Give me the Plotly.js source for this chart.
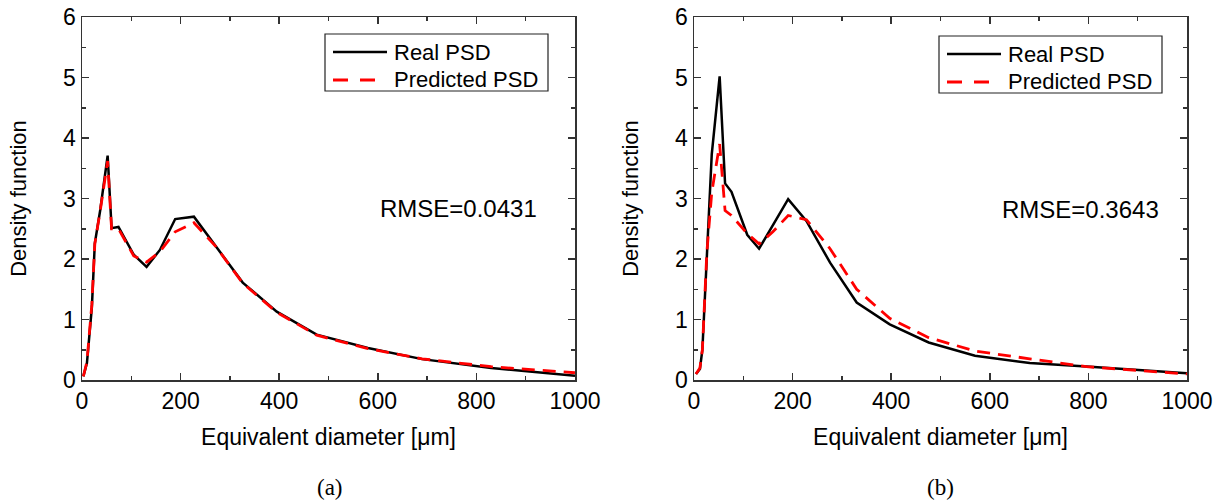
<!DOCTYPE html>
<html>
<head>
<meta charset="utf-8">
<script src="https://cdn.plot.ly/plotly-3.0.1.min.js"></script>
<style>html,body{margin:0;padding:0;background:#fff;}#chart{width:1221px;height:502px;}</style>
</head>
<body>
<div id="chart"></div>
<script>
// ---- data ----
const diamA = [2.7, 10, 20, 26, 37, 52, 60, 74, 105, 131, 158, 189, 227, 272, 326, 395, 476, 580, 690, 830, 1000];
const realA = [0.06, 0.28, 1.2, 2.26, 2.81, 3.71, 2.51, 2.53, 2.07, 1.87, 2.15, 2.66, 2.70, 2.20, 1.61, 1.13, 0.75, 0.53, 0.345, 0.20, 0.07];
const predA = [0.06, 0.30, 1.25, 2.25, 2.80, 3.62, 2.50, 2.50, 2.05, 1.95, 2.12, 2.45, 2.60, 2.20, 1.60, 1.12, 0.74, 0.52, 0.35, 0.22, 0.12];

const diamB = [4, 12, 17, 26, 36, 52, 63, 76, 108, 132, 160, 191, 228, 276, 330, 397, 476, 570, 681, 796, 1000];
const realB = [0.10, 0.18, 0.50, 2.00, 3.73, 5.02, 3.25, 3.11, 2.40, 2.17, 2.57, 2.99, 2.63, 1.94, 1.28, 0.92, 0.62, 0.40, 0.28, 0.225, 0.11];
const predB = [0.10, 0.20, 0.50, 2.10, 3.10, 3.90, 2.80, 2.72, 2.42, 2.25, 2.45, 2.72, 2.65, 2.17, 1.50, 1.02, 0.70, 0.48, 0.35, 0.22, 0.10];

const seriesNames = ["Real PSD", "Predicted PSD"];
const rmseLabels = ["RMSE=0.0431", "RMSE=0.3643"];
const panelLabels = ["(a)", "(b)"];
const xTitle = "Equivalent diameter [μm]";
const yTitle = "Density function";

// ---- styling ----
const FONT = "Liberation Sans, Arial, Helvetica, sans-serif";
const W = 1221, H = 502;
const px = v => v / W;
const py = v => 1 - v / H;

const realLine = {color: "#000000", width: 2.5};
const predLine = {color: "#ff0000", width: 2.8, dash: "13px,8px"};

const traces = [
  {x: diamA, y: realA, name: seriesNames[0], mode: "lines", line: realLine, xaxis: "x", yaxis: "y", showlegend: false},
  {x: diamA, y: predA, name: seriesNames[1], mode: "lines", line: predLine, xaxis: "x", yaxis: "y", showlegend: false},
  {x: diamB, y: realB, name: seriesNames[0], mode: "lines", line: realLine, xaxis: "x2", yaxis: "y2", showlegend: false},
  {x: diamB, y: predB, name: seriesNames[1], mode: "lines", line: predLine, xaxis: "x2", yaxis: "y2", showlegend: false}
];

function xAx(domain) {
  return {
    domain: domain, range: [0, 1000], dtick: 200, tick0: 0,
    showline: true, linecolor: "#333", linewidth: 1.5, mirror: "ticks",
    ticks: "inside", ticklen: 7, tickwidth: 1.5, tickcolor: "#333",
    minor: {dtick: 100, ticks: "inside", ticklen: 4, tickwidth: 1.5, tickcolor: "#333"},
    showgrid: false, zeroline: false, fixedrange: true,
    tickfont: {family: FONT, size: 23, color: "#000"},
    title: {text: xTitle, font: {family: FONT, size: 23, color: "#000"}, standoff: 16}
  };
}
function yAx(anchor) {
  return {
    domain: [py(380), py(17)], range: [0, 6], dtick: 1, tick0: 0, anchor: anchor,
    showline: true, linecolor: "#333", linewidth: 1.5, mirror: "ticks",
    ticks: "inside", ticklen: 7, tickwidth: 1.5, tickcolor: "#333",
    minor: {dtick: 0.5, ticks: "inside", ticklen: 4, tickwidth: 1.5, tickcolor: "#333"},
    showgrid: false, zeroline: false, fixedrange: true,
    tickfont: {family: FONT, size: 23, color: "#000"},
    title: {text: yTitle, font: {family: FONT, size: 22, color: "#000"}, standoff: 30}
  };
}

// manual legend boxes (pixel positions of the reference legend frames)
function legendParts(left, top) {
  const shapes = [
    {type: "rect", xref: "paper", yref: "paper", x0: px(left), x1: px(left + 223), y0: py(top), y1: py(top + 57),
     line: {color: "#222", width: 1.2}, fillcolor: "#fff", layer: "above"},
    {type: "line", xref: "paper", yref: "paper", x0: px(left + 8), x1: px(left + 62), y0: py(top + 18), y1: py(top + 18),
     line: {color: realLine.color, width: realLine.width}, layer: "above"},
    {type: "line", xref: "paper", yref: "paper", x0: px(left + 8), x1: px(left + 50), y0: py(top + 46), y1: py(top + 46),
     line: {color: predLine.color, width: predLine.width, dash: "15px,12px"}, layer: "above"}
  ];
  const annos = [
    {text: seriesNames[0], x: px(left + 67), y: py(top + 18), xref: "paper", yref: "paper", showarrow: false,
     xanchor: "left", yanchor: "middle", font: {family: FONT, size: 22, color: "#000"}},
    {text: seriesNames[1], x: px(left + 67), y: py(top + 46), xref: "paper", yref: "paper", showarrow: false,
     xanchor: "left", yanchor: "middle", font: {family: FONT, size: 22, color: "#000"}}
  ];
  return {shapes, annos};
}
const legA = legendParts(325, 34);
const legB = legendParts(939, 36);

const layout = {
  width: W, height: H,
  margin: {l: 0, r: 0, t: 0, b: 0},
  paper_bgcolor: "#fff", plot_bgcolor: "#fff",
  showlegend: false,
  xaxis: Object.assign(xAx([px(82), px(575)]), {anchor: "y"}),
  yaxis: yAx("x"),
  xaxis2: Object.assign(xAx([px(694), px(1187)]), {anchor: "y2"}),
  yaxis2: yAx("x2"),
  shapes: legA.shapes.concat(legB.shapes),
  annotations: [
    {text: rmseLabels[0], x: px(458), y: py(208), xref: "paper", yref: "paper", showarrow: false, xanchor: "center", yanchor: "middle", font: {family: FONT, size: 24, color: "#000"}},
    {text: rmseLabels[1], x: px(1080), y: py(209), xref: "paper", yref: "paper", showarrow: false, xanchor: "center", yanchor: "middle", font: {family: FONT, size: 24, color: "#000"}},
    {text: panelLabels[0], x: px(330), y: py(487), xref: "paper", yref: "paper", showarrow: false, xanchor: "center", yanchor: "middle", font: {family: "Liberation Serif, Times New Roman, serif", size: 23, color: "#000"}},
    {text: panelLabels[1], x: px(940), y: py(487), xref: "paper", yref: "paper", showarrow: false, xanchor: "center", yanchor: "middle", font: {family: "Liberation Serif, Times New Roman, serif", size: 23, color: "#000"}}
  ].concat(legA.annos, legB.annos)
};

Plotly.newPlot("chart", traces, layout, {displayModeBar: false, staticPlot: true});
</script>
</body>
</html>
